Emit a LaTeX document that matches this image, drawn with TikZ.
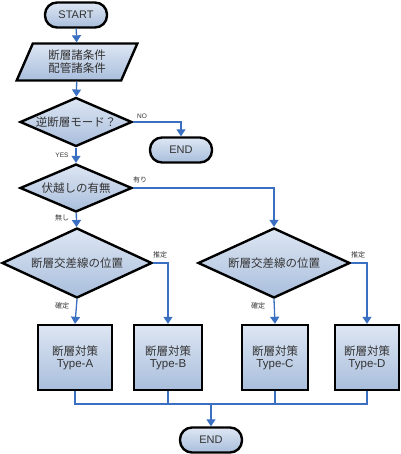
\documentclass[tikz,border=0pt]{standalone}
\usepackage{fontspec}
\setmainfont{Noto Sans CJK JP}
\newfontfamily\latf{Liberation Sans}
\usetikzlibrary{shapes.geometric,arrows.meta}
\definecolor{fillA}{HTML}{DDE6F3}
\definecolor{fillB}{HTML}{A9BEDC}
\definecolor{conn}{HTML}{3A6FC2}
\definecolor{txt}{HTML}{333333}
\tikzset{
  base/.style={draw=black, line width=2.4pt, top color=fillA, bottom color=fillB, text=txt, font=\fontsize{11.5}{14}\selectfont, inner sep=0pt, align=center},
  pill/.style={base, rectangle, rounded corners=12pt, minimum width=62pt, minimum height=25pt, font=\latf\fontsize{11}{13}\selectfont},
  io/.style={base, trapezium, trapezium left angle=66, trapezium right angle=114, trapezium stretches=true, minimum width=121pt, minimum height=37pt},
  dec/.style={base, diamond, aspect=2.2},
  proc/.style={base, rectangle, minimum height=65pt},
  conline/.style={draw=conn, line width=1.3pt},
  arr/.style={conline, -{Triangle[width=9pt,length=7pt]}},
  lbl/.style={text=txt, font=\fontsize{7}{8}\selectfont, inner sep=0pt}
}
\begin{document}
\begin{tikzpicture}[x=1pt,y=-1pt]
\useasboundingbox (0,0) rectangle (400,454);
\node[pill] (start) at (76,15) {START};
\node[io] (para) at (77,62) {断層諸条件\\[-1pt]配管諸条件};
\node[dec, minimum width=112pt, minimum height=49pt] (d1) at (76,122) {逆断層モード？};
\node[pill] (end1) at (181,150) {END};
\node[dec, minimum width=112pt, minimum height=48pt] (d2) at (76,188) {伏越しの有無};
\node[dec, minimum width=150pt, minimum height=70pt] (d3) at (77,263) {断層交差線の位置};
\node[dec, minimum width=152pt, minimum height=70pt] (d4) at (274,263) {断層交差線の位置};
\node[proc, minimum width=74pt] (ba) at (75,357.5) {断層対策\\[-2pt]{\latf Type-A}};
\node[proc, minimum width=68pt] (bb) at (168,357.5) {断層対策\\[-2pt]{\latf Type-B}};
\node[proc, minimum width=66pt] (bc) at (275,357.5) {断層対策\\[-2pt]{\latf Type-C}};
\node[proc, minimum width=64pt] (bd) at (367,357.5) {断層対策\\[-2pt]{\latf Type-D}};
\node[pill] (end2) at (211,440) {END};
\coordinate (j) at (211,404);
\draw[arr] (start) -- (para);
\draw[arr] (para) -- (d1);
\draw[arr] (d1.east) -| (end1.north);
\draw[arr] (d1) -- (d2);
\draw[arr] (d2.east) -| (d4.north);
\draw[arr] (d2) -- (d3);
\draw[arr] (d3.south) -- (ba.north);
\draw[arr] (d3.east) -| (bb.north);
\draw[arr] (d4.south) -- (bc.north);
\draw[arr] (d4.east) -| (bd.north);
\draw[conline] (ba.south) |- (j);
\draw[conline] (bb.south) |- (j);
\draw[conline] (bc.south) |- (j);
\draw[conline] (bd.south) |- (j);
\draw[arr] (j) -- (end2.north);
\node[lbl, font=\latf\fontsize{6.5}{8}\selectfont] (lno) at (142,116) {NO};
\node[lbl, font=\latf\fontsize{6.5}{8}\selectfont] (lyes) at (62,155) {YES};
\node[lbl] (lari) at (140,180) {有り};
\node[lbl] (lnashi) at (62,218) {無し};
\node[lbl] (lsu1) at (160,255) {推定};
\node[lbl] (lka1) at (62,306) {確定};
\node[lbl] (lsu2) at (358,255) {推定};
\node[lbl] (lka2) at (258,306) {確定};
\end{tikzpicture}
\end{document}
